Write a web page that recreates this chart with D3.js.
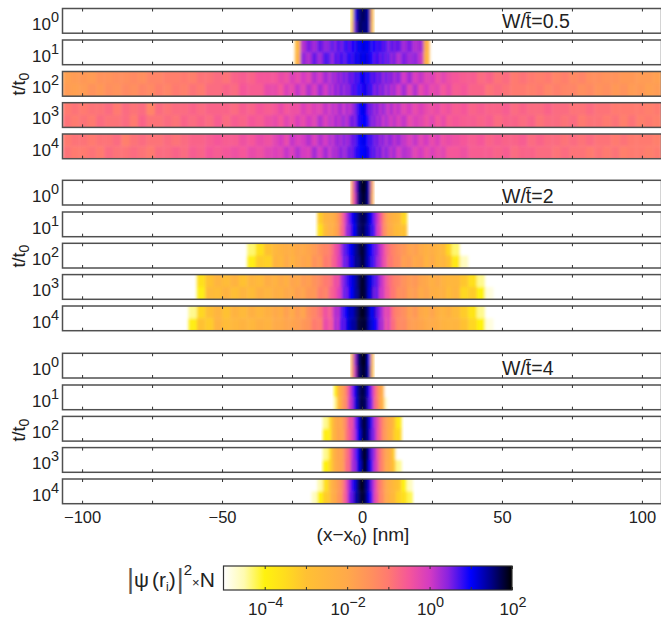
<!DOCTYPE html>
<html>
<head>
<meta charset="utf-8">
<script src="https://cdn.jsdelivr.net/npm/d3@7"></script>
<style>
  html, body { margin: 0; padding: 0; background: #fff; overflow: hidden; }
  text { font-family: "Liberation Sans", sans-serif; fill: #222; }
</style>
</head>
<body>
<div id="chart"></div>
<script>
// bin edges in nm, finer near the centre where the packet is narrow
const xEdges = [...d3.range(-107, -32, 3), ...d3.range(-32, -12, 2), ...d3.range(-12, 12, 1),
                ...d3.range(12, 32, 2), ...d3.range(32, 107.1, 3)];
const timeLabels = [0, 1, 2, 3, 4];
const disorderLabels = ["0.5", "2", "4"];
const xTicks = [-100, -75, -50, -25, 0, 25, 50, 75, 100];
const xLabelled = [-100, -50, 0, 50, 100];
const colorDomain = [-5, -4.5, -4, -3.5, -3, -2, -1.4, -1, -0.5, 0, 0.45, 1, 1.5, 2];
const colorRange = ["#ffffff", "#fffbb0", "#fff20f", "#ffdc1e", "#ffc133", "#ffa94a", "#ff8f5e", "#ff7a70",
                    "#f5569a", "#d43bc2", "#8a22e0", "#0000ff", "#000088", "#000000"];
const barTicks = [-4, -3, -2, -1, 0, 1, 2];
const barLabelled = [-4, -2, 0, 2];

// log10 of |psi|^2 N across the bins, two rows per panel, each list centred on x = 0
const w05t0a = [-3.6,0.8,1.4,1.6,1.7,1.5,1.3,-2.5];
const w05t0b = [-3.2,0.6,1.5,1.7,1.5,1.6,1.2,-2.8];
const w05t1a = [-2.6,0.2,0.5,0.3,0.6,0.4,0.5,0.7,0.4,0.8,0.5,0.7,0.9,0.6,1.0,0.8,1.1,1.0,
                1.2,1.0,1.1,0.8,1.0,0.7,0.9,0.6,0.8,0.4,0.7,0.5,0.6,0.3,0.5,0.2,0.3,-2.2];
const w05t1b = [-2.4,0.4,0.2,0.6,0.3,0.7,0.6,0.3,0.8,0.5,0.9,0.6,0.7,1.0,0.7,1.1,0.9,1.2,
                1.0,1.2,0.9,1.0,0.6,0.9,0.5,0.8,0.5,0.7,0.3,0.6,0.2,0.5,0.3,0.4,0.1,-2.4];
const w05t2a = [-1.8,-1.7,-1.6,-1.7,-1.5,-1.5,-1.4,-1.4,-1.3,-1.4,-1.2,-1.2,-1.1,-1.1,-1.0,-1.1,-0.9,-0.9,-0.8,-0.9,-0.7,-0.6,-0.7,-0.5,-0.5,
                -0.5,-0.3,-0.4,-0.1,-0.3,0.0,-0.2,0.2,0.0,0.3,0.1,0.4,0.2,0.5,0.3,0.6,0.4,0.7,0.5,0.8,0.7,1.0,
                1.1,0.8,1.0,0.6,0.8,0.5,0.7,0.3,0.6,0.4,0.5,0.2,0.4,0.0,0.3,-0.1,0.1,-0.2,-0.1,-0.4,-0.2,-0.4,
                -0.5,-0.6,-0.6,-0.8,-0.7,-0.9,-0.8,-1.0,-0.9,-1.0,-1.1,-1.0,-1.2,-1.1,-1.3,-1.2,-1.4,-1.4,-1.5,-1.5,-1.6,-1.6,-1.7,-1.7,-1.8];
const w05t2b = [-1.7,-1.8,-1.7,-1.5,-1.6,-1.4,-1.5,-1.3,-1.4,-1.2,-1.3,-1.1,-1.2,-1.0,-1.1,-0.9,-1.0,-0.8,-0.8,-0.7,-0.8,-0.5,-0.6,-0.6,-0.3,
                -0.3,-0.5,-0.1,-0.3,0.1,-0.2,0.2,-0.1,0.3,0.0,0.4,0.1,0.5,0.2,0.6,0.3,0.5,0.4,0.8,0.6,1.0,0.8,
                0.9,1.1,0.7,0.9,0.4,0.7,0.3,0.6,0.2,0.5,0.1,0.4,0.0,0.3,-0.2,0.2,-0.3,0.0,-0.3,-0.2,-0.5,-0.3,
                -0.6,-0.5,-0.7,-0.7,-0.9,-0.8,-0.9,-1.0,-1.0,-1.1,-1.0,-1.2,-1.1,-1.2,-1.2,-1.4,-1.3,-1.5,-1.4,-1.6,-1.5,-1.7,-1.6,-1.8,-1.7];
const w05t3a = [-1.0,-0.9,-1.0,-0.9,-0.9,-0.8,-1.0,-0.8,-0.9,-0.8,-1.2,-0.8,-0.9,-0.8,-0.8,-0.7,-0.8,-0.7,-0.7,-0.7,-0.8,-0.6,-0.7,-0.5,-0.6,
                -0.5,-0.3,-0.5,-0.4,-0.4,-0.1,-0.3,-0.1,-0.2,0.1,-0.1,0.2,0.0,0.2,0.3,0.0,0.3,0.1,0.3,0.5,0.8,1.0,
                1.1,0.9,0.5,0.6,0.3,0.5,0.1,0.4,0.2,0.0,0.3,-0.1,0.1,-0.2,0.0,-0.3,-0.1,-0.3,-0.4,-0.3,-0.5,-0.4,
                -0.6,-0.5,-0.7,-0.6,-0.7,-0.7,-0.6,-0.8,-0.7,-0.8,-0.8,-0.7,-0.8,-0.8,-0.9,-0.9,-0.8,-0.9,-0.9,-1.0,-1.0,-1.0,-1.0,-1.1,-1.0];
const w05t3b = [-0.9,-1.0,-0.9,-1.0,-0.8,-0.9,-0.9,-0.8,-1.0,-0.7,-0.9,-0.9,-0.8,-0.9,-0.7,-0.8,-0.7,-0.8,-0.6,-0.8,-0.6,-0.7,-0.5,-0.6,-0.4,
                -0.3,-0.5,-0.2,-0.4,-0.1,-0.3,0.0,-0.2,0.2,-0.1,0.2,0.0,0.3,0.1,0.2,0.4,0.1,0.4,0.6,0.4,0.9,0.9,
                1.0,1.0,0.7,0.4,0.5,0.2,0.4,0.0,0.3,0.1,-0.1,0.2,-0.1,0.1,-0.3,-0.1,-0.2,-0.4,-0.2,-0.5,-0.3,-0.6,
                -0.5,-0.6,-0.6,-0.7,-0.6,-0.8,-0.7,-0.7,-0.8,-0.7,-0.9,-0.8,-0.8,-0.9,-0.8,-1.0,-0.9,-0.9,-1.0,-0.9,-1.1,-0.9,-1.1,-1.0,-1.1];
const w05t4a = [-1.0,-0.9,-0.9,-1.0,-0.9,-0.9,-0.8,-1.1,-0.9,-0.8,-0.9,-0.9,-0.8,-0.9,-0.8,-0.7,-0.7,-0.6,-0.5,-0.6,-0.6,-0.4,-0.5,-0.3,-0.4,
                -0.2,0.0,-0.3,0.1,-0.1,0.0,0.2,-0.1,0.2,0.0,0.3,0.1,0.3,0.4,0.2,0.5,0.3,0.4,0.6,0.6,0.9,1.0,
                1.1,1.0,0.7,0.8,0.5,0.6,0.3,0.5,0.2,0.4,0.4,0.1,0.3,0.1,-0.1,0.1,-0.2,0.0,-0.3,-0.1,-0.4,-0.3,
                -0.4,-0.5,-0.6,-0.5,-0.7,-0.6,-0.7,-0.7,-0.6,-0.8,-0.7,-0.8,-0.8,-0.9,-0.8,-0.9,-0.8,-0.9,-0.9,-1.0,-0.9,-1.0,-1.0,-1.0,-1.1];
const w05t4b = [-0.9,-1.0,-1.0,-0.9,-1.0,-0.8,-0.9,-0.9,-0.8,-0.9,-1.0,-0.8,-0.8,-0.7,-0.8,-0.6,-0.7,-0.5,-0.6,-0.5,-0.4,-0.5,-0.3,-0.4,-0.2,
                -0.1,-0.2,0.1,-0.1,0.2,0.0,-0.1,0.3,0.0,0.3,0.0,0.3,0.2,0.3,0.5,0.3,0.4,0.6,0.5,0.8,0.9,1.0,
                1.0,1.1,0.9,0.6,0.7,0.4,0.6,0.2,0.5,0.3,0.1,0.4,0.0,0.2,0.1,-0.2,0.0,-0.3,-0.1,-0.3,-0.2,-0.5,
                -0.5,-0.4,-0.6,-0.6,-0.6,-0.7,-0.6,-0.8,-0.7,-0.7,-0.8,-0.8,-0.9,-0.8,-0.9,-0.9,-1.0,-0.9,-1.0,-0.9,-1.1,-1.0,-1.0,-1.1,-1.0];

const w2t0a = [-1.7,0.2,1.4,1.8,1.9,1.8,1.2,-1.8];
const w2t0b = [-1.5,0.0,1.5,1.7,1.9,1.7,1.3,-2.0];
const w2t1a = [-3.2,-2.5,-2.2,-2.3,-2.0,-1.6,-1.0,-0.4,0.2,0.6,1.0,1.2,1.5,1.7,
               1.7,1.6,1.2,1.0,0.5,0.1,-0.4,-1.0,-1.6,-2.0,-2.2,-2.4,-2.6,-3.4];
const w2t1b = [-3.6,-2.7,-2.1,-2.4,-1.9,-1.8,-0.8,-0.6,0.4,0.4,1.1,1.0,1.6,1.6,
               1.8,1.4,1.3,0.8,0.7,-0.1,-0.2,-1.2,-1.4,-2.1,-2.1,-2.6,-2.8,-3.0];
const w2t2a = [-4.3,-3.6,-3.0,-2.6,-2.4,-2.2,-2.3,-2.0,-2.1,-1.9,-1.7,-1.4,-1.2,-1.0,-0.8,-0.4,-0.3,0.2,0.6,0.7,1.0,1.1,1.4,1.6,1.8,
               1.8,1.5,1.1,1.0,0.6,0.5,0.1,-0.1,-0.6,-0.8,-1.1,-1.2,-1.4,-1.6,-1.9,-1.8,-2.1,-2.3,-2.2,-2.5,-2.7,-3.4,-4.3,-5,-5];
const w2t2b = [-3.9,-3.2,-3.3,-2.4,-2.6,-2.1,-2.4,-2.1,-1.9,-2.0,-1.5,-1.6,-1.0,-1.1,-0.6,-0.6,-0.1,0.0,0.7,0.5,1.1,0.9,1.5,1.5,1.7,
               1.9,1.4,1.2,0.8,0.7,0.3,0.2,-0.3,-0.4,-1.0,-0.9,-1.3,-1.3,-1.8,-1.7,-2.0,-1.9,-2.4,-2.1,-2.6,-2.5,-3.0,-3.8,-4.6,-5];
const w2t3a = [-3.6,-3.0,-2.5,-2.8,-2.4,-3.0,-2.5,-2.7,-2.2,-2.4,-2.1,-2.3,-1.9,-2.0,-1.7,-1.8,-1.5,-1.3,-1.0,-0.9,-0.7,-0.3,-0.5,0.2,0.5,0.7,0.9,1.1,1.3,1.6,1.8,
               1.9,1.6,1.2,1.1,0.7,0.6,0.2,0.0,-0.4,-0.7,-0.9,-1.1,-1.2,-1.5,-1.7,-1.6,-1.9,-2.0,-2.3,-2.1,-2.4,-2.6,-2.6,-3.1,-3.6,-4.4,-5,-5,-5,-5,-5];
const w2t3b = [-3.9,-2.7,-2.8,-2.4,-2.9,-2.5,-2.8,-2.3,-2.5,-2.2,-2.3,-2.0,-2.1,-1.8,-1.9,-1.6,-1.6,-1.1,-1.2,-0.7,-0.6,-0.5,-0.1,0.0,0.7,0.5,1.0,1.0,1.4,1.5,1.9,
               1.8,1.7,1.1,1.2,0.5,0.7,0.0,0.1,-0.5,-0.5,-1.0,-0.9,-1.4,-1.4,-1.8,-1.7,-2.1,-1.9,-2.2,-2.3,-2.3,-2.8,-2.5,-3.4,-3.2,-4.0,-4.8,-5,-5,-5,-5];
const w2t4a = [-4.4,-3.4,-2.9,-2.5,-3.0,-2.4,-2.7,-2.3,-2.6,-2.3,-2.0,-2.2,-1.8,-2.1,-1.7,-1.9,-1.4,-1.2,-0.9,-0.4,-0.7,-0.2,0.3,0.1,0.6,0.8,1.0,1.3,1.2,1.5,1.7,1.9,
               1.9,1.7,1.4,1.0,1.2,0.6,0.4,0.1,-0.3,-0.1,-0.7,-1.0,-1.2,-1.4,-1.8,-1.6,-2.0,-2.2,-1.9,-2.3,-2.5,-2.3,-2.7,-3.2,-3.7,-4.4,-5,-5,-5,-5,-5,-5];
const w2t4b = [-3.9,-3.0,-3.2,-2.4,-2.8,-2.6,-2.4,-2.6,-2.3,-2.4,-2.1,-2.1,-1.9,-1.9,-1.8,-1.6,-1.5,-1.0,-1.1,-0.3,-0.5,-0.4,0.4,0.0,0.8,0.6,1.1,1.2,1.4,1.4,1.8,1.8,
               1.8,1.8,1.3,1.2,1.0,0.8,0.2,0.3,-0.5,0.0,-0.8,-0.8,-1.3,-1.3,-1.7,-1.8,-1.9,-2.1,-2.1,-2.2,-2.4,-2.5,-2.5,-3.0,-3.4,-4.0,-4.8,-5,-5,-5,-5,-5];

const w4t0a = [-2.2,0.3,1.5,1.8,1.9,1.8,1.0,-2.4];
const w4t0b = [-2.0,0.1,1.6,1.7,1.9,1.7,1.2,-2.6];
const w4t1a = [-4.0,-2.6,-2.0,-1.6,-1.0,-0.2,0.4,1.0,1.5,1.7,1.8,1.5,0.9,0.3,-0.5,-1.2,-1.8,-2.6,-5,-5];
const w4t1b = [-4.4,-2.8,-2.2,-1.4,-1.2,0.0,0.2,1.1,1.4,1.8,1.7,1.6,0.7,0.5,-0.7,-1.0,-2.0,-2.4,-4.6,-5];
const w4t2a = [-4.4,-3.6,-2.8,-2.2,-1.9,-2.1,-1.5,-1.1,-0.3,-0.5,0.4,0.9,1.5,1.8,
               1.7,1.2,0.8,0.2,-0.2,-0.8,-1.3,-1.7,-2.0,-2.3,-2.9,-3.8];
const w4t2b = [-3.9,-3.9,-2.5,-2.4,-1.8,-2.0,-1.7,-0.9,-0.6,-0.2,0.2,1.0,1.3,1.9,
               1.6,1.3,0.6,0.4,-0.4,-0.7,-1.5,-1.6,-2.2,-2.2,-3.2,-3.4];
const w4t3a = [-4.4,-3.7,-2.6,-2.3,-1.8,-2.0,-1.4,-0.9,-0.6,0.1,0.5,1.0,1.5,1.9,
               1.8,1.3,0.6,0.3,-0.4,-0.9,-1.4,-1.8,-2.1,-2.4,-3.4,-5];
const w4t3b = [-4.0,-3.4,-2.9,-2.1,-2.0,-1.8,-1.6,-0.7,-0.8,0.3,0.3,1.1,1.3,1.8,
               1.9,1.1,0.8,0.1,-0.2,-1.1,-1.2,-2.0,-2.0,-2.6,-3.1,-4.4];
const w4t4a = [-5,-4.5,-3.6,-2.8,-2.2,-2.0,-1.7,-1.4,-0.9,-0.2,0.3,0.8,1.1,1.6,1.9,
               1.9,1.5,1.2,0.5,0.0,-0.7,-1.1,-1.5,-1.9,-2.2,-2.5,-2.7,-3.0,-4.0,-4.6];
const w4t4b = [-4.6,-4.0,-3.2,-3.0,-2.0,-2.2,-1.5,-1.6,-0.7,-0.4,0.5,0.6,1.3,1.5,1.8,
               1.8,1.6,1.0,0.7,-0.2,-0.5,-1.3,-1.3,-2.1,-2.0,-2.7,-2.5,-3.3,-3.6,-4.2];

const profiles = [
  [[w05t0a, w05t0b], [w05t1a, w05t1b], [w05t2a, w05t2b], [w05t3a, w05t3b], [w05t4a, w05t4b]],
  [[w2t0a, w2t0b], [w2t1a, w2t1b], [w2t2a, w2t2b], [w2t3a, w2t3b], [w2t4a, w2t4b]],
  [[w4t0a, w4t0b], [w4t1a, w4t1b], [w4t2a, w4t2b], [w4t3a, w4t3b], [w4t4a, w4t4b]]
];

const width = 661, height = 619;
const panelTop = [[8.5, 40, 71.5, 102.7, 134], [180.3, 212, 243.3, 274.6, 306], [353.3, 385, 416.4, 447.6, 479]];
const panelHeight = 24.7;
const groupLabelY = [84, 256, 430];
const annotationY = [28, 203, 375];

const svg = d3.select("#chart").append("svg")
  .attr("width", width)
  .attr("height", height)
  .attr("viewBox", [0, 0, width, height])
  .style("display", "block");

const xScale = d3.scaleLinear().domain([-107, 107]).range([62.5, 661.5]);
const color = d3.scaleLinear().domain(colorDomain).range(colorRange).clamp(true);

const defs = svg.append("defs");
defs.append("filter").attr("id", "soft")
  .attr("x", "-2%").attr("y", "-30%").attr("width", "104%").attr("height", "160%")
  .append("feGaussianBlur").attr("stdDeviation", "1.4 1.6");

// power-of-ten label, exponent raised as a tspan
function powerLabel(sel, exp, size) {
  sel.append("tspan").attr("font-size", size).text("10");
  sel.append("tspan").attr("font-size", size * 0.85).attr("dy", -size * 0.48)
    .text(String(exp).replace("-", "\u2212"));
}

profiles.forEach((group, g) => {
  group.forEach((rows, t) => {
    const y0 = panelTop[g][t];
    const yScale = d3.scaleBand().domain(d3.range(rows.length)).range([y0 - 3, y0 + panelHeight + 3]);
    const clipId = `clip-${g}-${t}`;
    defs.append("clipPath").attr("id", clipId)
      .append("rect")
        .attr("x", xScale.range()[0]).attr("y", y0)
        .attr("width", xScale.range()[1] - xScale.range()[0]).attr("height", panelHeight);

    const panel = svg.append("g").attr("clip-path", `url(#${clipId})`)
      .append("g").attr("filter", "url(#soft)");
    rows.forEach((values, r) => {
      const first = Math.floor((xEdges.length - 1 - values.length) / 2);
      panel.append("g").selectAll("rect")
        .data(values)
        .join("rect")
          .attr("x", (d, i) => xScale(xEdges[first + i]))
          .attr("width", (d, i) => xScale(xEdges[first + i + 1]) - xScale(xEdges[first + i]) + 0.4)
          .attr("y", yScale(r))
          .attr("height", yScale.bandwidth() + 0.4)
          .attr("fill", d => color(d));
    });

    svg.append("rect")
      .attr("x", xScale.range()[0]).attr("y", y0)
      .attr("width", xScale.range()[1] - xScale.range()[0]).attr("height", panelHeight)
      .attr("fill", "none").attr("stroke", "#505050").attr("stroke-width", 1.5);

    const labelled = g === 2 && t === 4;
    const bottom = svg.append("g")
      .attr("transform", `translate(0,${y0 + panelHeight})`)
      .call(d3.axisBottom(xScale).tickValues(xTicks).tickSize(-3).tickPadding(8)
        .tickFormat(d => labelled && xLabelled.includes(d) ? d3.format("")(d) : ""));
    bottom.select(".domain").remove();
    bottom.selectAll("line").attr("stroke", "#333");
    bottom.selectAll("text").attr("font-size", 16.5).attr("font-family", "Liberation Sans").attr("fill", "#222");

    const top = svg.append("g")
      .attr("transform", `translate(0,${y0})`)
      .call(d3.axisTop(xScale).tickValues(xTicks).tickSize(-3).tickFormat(""));
    top.select(".domain").remove();
    top.selectAll("line").attr("stroke", "#333");

    svg.append("text")
      .attr("x", 59).attr("y", y0 + panelHeight - 3)
      .attr("text-anchor", "end")
      .call(powerLabel, timeLabels[t], 17);
  });

  svg.append("text")
    .attr("transform", `translate(25,${groupLabelY[g]}) rotate(-90)`)
    .attr("text-anchor", "middle")
    .attr("font-size", 18)
    .call(sel => {
      sel.append("tspan").text("t/t");
      sel.append("tspan").attr("font-size", 14).attr("dy", 4).text("0");
    });

  svg.append("text")
    .attr("x", 502).attr("y", annotationY[g])
    .attr("font-size", 19.5)
    .text(`W/t\u0304=${disorderLabels[g]}`);
});

svg.append("text")
  .attr("x", 363).attr("y", 541)
  .attr("text-anchor", "middle")
  .attr("font-size", 19)
  .call(sel => {
    sel.append("tspan").text("(x\u2212x");
    sel.append("tspan").attr("font-size", 14).attr("dy", 4).text("0");
    sel.append("tspan").attr("dy", -4).text(") [nm]");
  });

// colour bar
const barScale = d3.scaleLinear().domain([-5, 2]).range([223.5, 512]);
const barY = 566, barH = 24;
const gradient = defs.append("linearGradient").attr("id", "barGradient");
gradient.selectAll("stop")
  .data(colorDomain)
  .join("stop")
    .attr("offset", d => (d + 5) / 7)
    .attr("stop-color", (d, i) => colorRange[i]);

svg.append("rect")
  .attr("x", barScale(-5)).attr("y", barY)
  .attr("width", barScale(2) - barScale(-5)).attr("height", barH)
  .attr("fill", "url(#barGradient)")
  .attr("stroke", "#333").attr("stroke-width", 1.2);

const barBottom = svg.append("g")
  .attr("transform", `translate(0,${barY + barH})`)
  .call(d3.axisBottom(barScale).tickValues(barTicks).tickSize(-3).tickFormat(""));
barBottom.select(".domain").remove();
barBottom.selectAll("line").attr("stroke", "#333");
const barTop = svg.append("g")
  .attr("transform", `translate(0,${barY})`)
  .call(d3.axisTop(barScale).tickValues(barTicks).tickSize(-3).tickFormat(""));
barTop.select(".domain").remove();
barTop.selectAll("line").attr("stroke", "#333");

barLabelled.forEach(e => {
  svg.append("text")
    .attr("x", barScale(e) + 1).attr("y", 615)
    .attr("text-anchor", "middle")
    .call(powerLabel, e, 17);
});

// colour bar title, |psi(r_i)|^2 x N
svg.append("text")
  .attr("x", 127).attr("y", 587)
  .attr("font-size", 21)
  .call(sel => {
    sel.append("tspan").attr("fill", "#555").attr("font-size", 27).attr("dy", 1).text("|");
    sel.append("tspan").attr("dy", -1).text("\u03c8");
    sel.append("tspan").attr("dx", 3).text("(r");
    sel.append("tspan").attr("font-size", 12).attr("dy", 4).text("i");
    sel.append("tspan").attr("dy", -4).text(")");
    sel.append("tspan").attr("fill", "#555").attr("font-size", 27).attr("dy", 1).attr("dx", 1).text("|");
    sel.append("tspan").attr("font-size", 15).attr("dy", -13).text("2");
    sel.append("tspan").attr("font-size", 13).attr("dy", 12).text("\u00d7");
    sel.append("tspan").text("N");
  });
</script>
</body>
</html>
